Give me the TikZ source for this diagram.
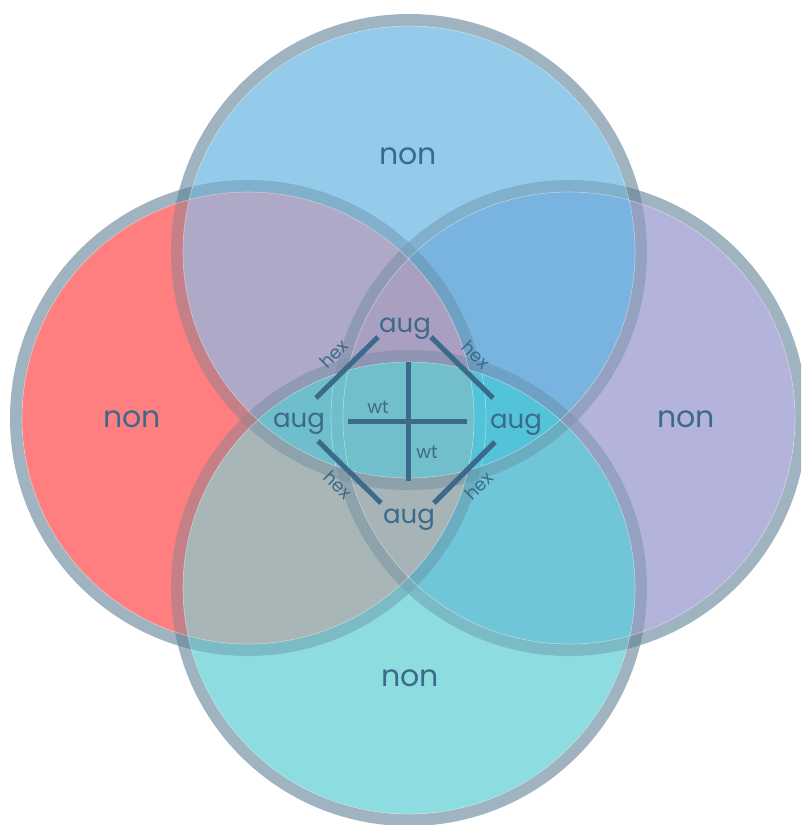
\documentclass[tikz,border=0pt]{standalone}
\usepackage{fontspec}
\setmainfont{Poppins}
\begin{document}
\begin{tikzpicture}[x=1pt,y=-1pt]
\definecolor{fT}{HTML}{94CBEB}
\definecolor{fL}{HTML}{FF7F80}
\definecolor{fR}{HTML}{B3B3DB}
\definecolor{fB}{HTML}{8CDCE0}
\definecolor{fTL}{HTML}{AEA9C6}
\definecolor{fTR}{HTML}{79B3E0}
\definecolor{fTB}{HTML}{70BFCB}
\definecolor{fLR}{HTML}{A8A6BE}
\definecolor{fLB}{HTML}{A9B6B7}
\definecolor{fRB}{HTML}{71C5D8}
\definecolor{fTLR}{HTML}{A99FC1}
\definecolor{fTLB}{HTML}{6EBECB}
\definecolor{fTRB}{HTML}{52C3D8}
\definecolor{fLRB}{HTML}{A6B3B7}
\definecolor{fAll}{HTML}{70BFCB}
\definecolor{ringc}{HTML}{5F8296}
\definecolor{ink}{HTML}{3C6A8A}
\tikzset{
  ring/.style={draw=ringc, draw opacity=0.6, line width=12pt},
  seam/.style={draw=white, draw opacity=0.45, line width=0.6pt},
  bar/.style={draw=ink, line width=5pt},
  big/.style={text=ink, inner sep=0pt, anchor=base, font=\fontsize{30}{32}\selectfont},
  mid/.style={text=ink, inner sep=0pt, anchor=base, font=\fontsize{26}{28}\selectfont},
  small/.style={text=ink, inner sep=0pt, font=\fontsize{18}{20}\selectfont},
  tiny/.style={text=ink, inner sep=0pt, anchor=base, font=\fontsize{18}{20}\selectfont},
}
\useasboundingbox (0,0) rectangle (801,825);
\fill[white] (0,0) rectangle (801,825);
\clip (0,0) rectangle (801,825);
\coordinate (cT) at (409,252);
\coordinate (cL) at (248,418);
\coordinate (cR) at (569,418);
\coordinate (cB) at (409,588);
\def\rr{226pt}
\def\CT{(cT) circle[radius=\rr]}
\def\CL{(cL) circle[radius=\rr]}
\def\CR{(cR) circle[radius=\rr]}
\def\CB{(cB) circle[radius=\rr]}
% all regions, one colour each (inside the rings)
\def\regions{%
\fill[fT] \CT; \fill[fL] \CL; \fill[fR] \CR; \fill[fB] \CB;
\begin{scope}\clip \CT; \fill[fTL] \CL; \end{scope}
\begin{scope}\clip \CT; \fill[fTR] \CR; \end{scope}
\begin{scope}\clip \CT; \fill[fTB] \CB; \end{scope}
\begin{scope}\clip \CL; \fill[fLR] \CR; \end{scope}
\begin{scope}\clip \CL; \fill[fLB] \CB; \end{scope}
\begin{scope}\clip \CR; \fill[fRB] \CB; \end{scope}
\begin{scope}\clip \CT; \clip \CL; \fill[fTLR] \CR; \end{scope}
\begin{scope}\clip \CT; \clip \CL; \fill[fTLB] \CB; \end{scope}
\begin{scope}\clip \CT; \clip \CR; \fill[fTRB] \CB; \end{scope}
\begin{scope}\clip \CL; \clip \CR; \fill[fLRB] \CB; \end{scope}
\begin{scope}\clip \CT; \clip \CL; \clip \CR; \fill[fAll] \CB; \end{scope}}
\regions
% left and right rings
\draw[ring] (cL) circle[radius=232pt];
\draw[ring] (cR) circle[radius=232pt];
% central band drawn over them
\begin{scope}\clip \CT; \fill[fTB] \CB; \end{scope}
\begin{scope}\clip \CT; \clip \CL; \fill[fTLB] \CB; \end{scope}
\begin{scope}\clip \CT; \clip \CR; \fill[fTRB] \CB; \end{scope}
\begin{scope}\clip \CT; \clip \CL; \clip \CR; \fill[fAll] \CB; \end{scope}
% top and bottom rings
\draw[ring] (cT) circle[radius=232pt];
\draw[ring] (cB) circle[radius=232pt];
% fills shown again, partly seen, over the rings inside other circles
\begin{scope}[transparency group, opacity=0.4]
\regions
\end{scope}
% seams
\begin{scope}\clip \CT; \clip \CB;
  \draw[seam] (cL) circle[radius=238pt];
  \draw[seam] (cR) circle[radius=238pt];
\end{scope}
\foreach \c in {cT,cL,cR,cB} \draw[seam] (\c) circle[radius=226pt];
% labels
\node[big] (nT) at (408,164) {non};
\node[big] (nL) at (132,427) {non};
\node[big] (nR) at (686,427) {non};
\node[big] (nB) at (410,686) {non};
\node[mid] (aT) at (405,332) {aug};
\node[mid] (aL) at (299,427) {aug};
\node[mid] (aR) at (516,428) {aug};
\node[mid] (aB) at (409,523) {aug};
% hex bars
\coordinate (p1) at (316,398); \coordinate (p2) at (378,337);
\coordinate (p3) at (431,337); \coordinate (p4) at (493,398);
\coordinate (p5) at (318,441); \coordinate (p6) at (381,503);
\coordinate (p7) at (495,442); \coordinate (p8) at (434,503);
\draw[bar] (p1) -- (p2);
\draw[bar] (p3) -- (p4);
\draw[bar] (p5) -- (p6);
\draw[bar] (p7) -- (p8);
\node[small, rotate=45] (x1) at (334,354) {hex};
\node[small, rotate=-45] (x2) at (476,355) {hex};
\node[small, rotate=-45] (x3) at (338,485) {hex};
\node[small, rotate=45] (x4) at (479,486) {hex};
% wt cross
\coordinate (v1) at (408,362); \coordinate (v2) at (408,481);
\coordinate (h1) at (348,421); \coordinate (h2) at (467,421);
\draw[bar] (v1) -- (v2);
\draw[bar] (h1) -- (h2);
\node[tiny] (w1) at (378,413) {wt};
\node[tiny] (w2) at (427,458) {wt};
\end{tikzpicture}
\end{document}
